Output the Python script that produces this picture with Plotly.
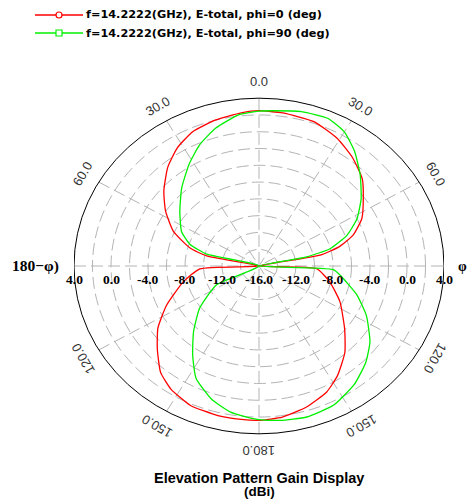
import numpy as np
import plotly.graph_objects as go

# Elevation cuts, theta in degrees (negative = left half), gain in dBi
theta_phi0 = [-180, -174, -166, -156, -147, -140, -132, -124, -115, -103,
              -93, -90, -78, -74, -66, -57, -49, -40, -32, -24,
              -15, -6, 0, 8, 19, 29, 38, 47, 54, 63,
              70, 75, 79, 90, 93, 104, 116, 129, 138, 147,
              154, 163, 172, 180]
gain_phi0 = [2.39, 2.38, 2.37, 2.2, 1.49, 0.55, -1.21, -2.82, -4.99, -7.6,
             -9.61, -20, -10.21, -8.25, -5.87, -3.95, -2.37, -0.65, 0.63, 1.54,
             2.02, 2.35, 2.51, 2.42, 2.2, 1.41, 0.41, -0.74, -2.06, -3.52,
             -5.15, -6.95, -9.28, -20, -9.75, -8.1, -6.26, -4.09, -2.13, -0.42,
             0.70, 1.57, 2.18, 2.39]

theta_phi90 = [-180, -178, -170, -162, -153, -146, -138, -128, -116, -100,
               -76, -71, -64, -53, -42, -32, -24, -16, -7, 0,
               5, 14, 23, 30, 37, 45, 54, 62, 69, 75,
               78, 90, 93, 97, 108, 117, 127, 135, 144, 154,
               164, 173, 180]
gain_phi90 = [2.3, 2.2, 1.68, 0.66, -1.0, -3.18, -5.42, -7.86, -10.9, -20,
              -10.18, -8.13, -6.69, -5.28, -3.51, -1.72, -0.21, 1.07, 2.15, 2.45,
              2.57, 2.95, 3.09, 2.45, 1.15, -0.54, -2.35, -4.0, -5.82, -8.04,
              -10.73, -20, -7.95, -7.18, -4.88, -2.97, -0.98, 0.31, 1.49, 2.44,
              2.72, 2.53, 2.3]

series_names = ["f=14.2222(GHz), E-total, phi=0 (deg)", "f=14.2222(GHz), E-total, phi=90 (deg)"]

# Radial scale (dBi) and grid
r_min, r_max = -16.0, 4.0
radial_ticks = [4.0, 0.0, -4.0, -8.0, -12.0, -16.0]
ring_step = 2.0
spoke_angles = [0, 30, 60, 90, 120, 150]
angle_ticks = [0, 30, 60, 120, 150, 180, -30, -60, -120, -150]

span = r_max - r_min
y_ext = span + 3.0          # extra vertical room so the 0/180 labels stay inside the axes

# figure geometry (pixels)
W, H = 468, 500
PX_L, PX_R, PX_T, PX_B = 74, 444, 73, 459


def paper_x(px):
    return (px - PX_L) / (PX_R - PX_L)


def paper_y(py):
    return (PX_B - py) / (PX_B - PX_T)


def to_xy(theta, gain):
    rr = np.clip(np.asarray(gain, float) - r_min, 0, None)
    t = np.radians(np.asarray(theta, float))
    return rr * np.sin(t), rr * np.cos(t)


fig = go.Figure()

grid_line = dict(color="#b4b4b4", width=1, dash="12px,5px")
shapes = []
for v in np.arange(r_min + ring_step, r_max, ring_step):
    rr = v - r_min
    shapes.append(dict(type="circle", xref="x", yref="y", x0=-rr, x1=rr, y0=-rr, y1=rr,
                       line=grid_line, layer="below"))
for a in spoke_angles:
    t = np.radians(a)
    shapes.append(dict(type="line", xref="x", yref="y",
                       x0=-span * np.sin(t), y0=-span * np.cos(t),
                       x1=span * np.sin(t), y1=span * np.cos(t),
                       line=grid_line, layer="below"))
shapes.append(dict(type="circle", xref="x", yref="y", x0=-span, x1=span, y0=-span, y1=span,
                   line=dict(color="#000000", width=1), layer="below"))

colors = ["#ff0000", "#00f000"]
marker_kinds = ["circle", "rect"]
for (th, g), c in zip([(theta_phi0, gain_phi0), (theta_phi90, gain_phi90)], colors):
    x, y = to_xy(th, g)
    fig.add_trace(go.Scatter(x=x, y=y, mode="lines",
                             line=dict(color=c, width=1.3, shape="spline", smoothing=0.5),
                             showlegend=False, hoverinfo="skip"))

ann = []

# legend: sample line with an open marker, then the series name
legend_rows = [15, 33]
for name, c, kind, row in zip(series_names, colors, marker_kinds, legend_rows):
    yy = paper_y(row)
    shapes.append(dict(type="line", xref="paper", yref="paper",
                       x0=paper_x(35), x1=paper_x(83), y0=yy, y1=yy,
                       line=dict(color=c, width=1.3)))
    shapes.append(dict(type=kind, xref="paper", yref="paper",
                       xsizemode="pixel", ysizemode="pixel",
                       xanchor=paper_x(59), yanchor=yy, x0=-3, x1=3, y0=-3, y1=3,
                       fillcolor="white", line=dict(color=c, width=1.2)))
    ann.append(dict(x=paper_x(84), y=yy, xref="paper", yref="paper", text=name,
                    showarrow=False, xanchor="left", yanchor="middle",
                    font=dict(family="DejaVu Sans", size=11.3, color="#000000", weight="bold")))

for v in radial_ticks:
    rr = v - r_min
    sides = [0.0] if rr == 0 else [-rr, rr]
    for xv in sides:
        ann.append(dict(x=xv, y=0, xref="x", yref="y", text=f"{v:.1f}", showarrow=False,
                        yshift=-13, xanchor="center", yanchor="middle",
                        font=dict(family="Liberation Serif", size=13.5, color="#000000", weight="bold")))
lab_r = span + 2.0
for a in angle_ticks:
    t = np.radians(a)
    ann.append(dict(x=lab_r * np.sin(t), y=lab_r * np.cos(t), xref="x", yref="y",
                    text=f"{abs(a):.1f}", textangle=a, showarrow=False,
                    xanchor="center", yanchor="middle",
                    font=dict(family="Liberation Sans", size=13, color="#333333")))
ann.append(dict(x=paper_x(35), y=paper_y(266), xref="paper", yref="paper", text="180\u2212\u03c6)",
                showarrow=False, xanchor="center", yanchor="middle",
                font=dict(family="Liberation Serif", size=15.5, color="#000000", weight="bold")))
ann.append(dict(x=paper_x(463), y=paper_y(266), xref="paper", yref="paper", text="\u03c6",
                showarrow=False, xanchor="center", yanchor="middle",
                font=dict(family="Liberation Serif", size=14, color="#000000", weight="bold")))
ann.append(dict(x=0.5, y=paper_y(477.5), xref="paper", yref="paper", text="Elevation Pattern Gain Display",
                showarrow=False, xanchor="center", yanchor="middle",
                font=dict(family="Liberation Sans", size=14.5, color="#000000", weight="bold")))
ann.append(dict(x=0.5, y=paper_y(491.5), xref="paper", yref="paper", text="(dBi)",
                showarrow=False, xanchor="center", yanchor="middle",
                font=dict(family="Liberation Sans", size=13.5, color="#000000", weight="bold")))

fig.update_layout(
    width=W, height=H,
    margin=dict(l=PX_L, r=W - PX_R, t=PX_T, b=H - PX_B),
    paper_bgcolor="white", plot_bgcolor="white",
    xaxis=dict(range=[-span, span], visible=False, fixedrange=True),
    yaxis=dict(range=[-y_ext, y_ext], visible=False, fixedrange=True),
    shapes=shapes, annotations=ann,
    showlegend=False,
)

fig.write_html("out.html")
